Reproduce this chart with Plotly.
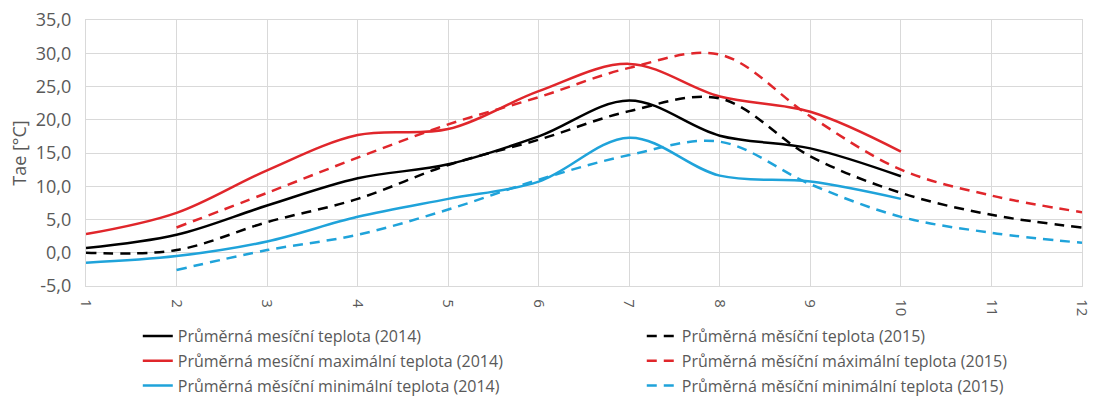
import plotly.graph_objects as go

months_2014 = [1, 2, 3, 4, 5, 6, 7, 8, 9, 10]
months_2015 = [1, 2, 3, 4, 5, 6, 7, 8, 9, 10, 11, 12]

avg_2014 = [0.7, 2.7, 7.1, 11.2, 13.3, 17.5, 22.9, 17.6, 15.7, 11.5]
max_2014 = [2.8, 6.0, 12.4, 17.7, 18.6, 24.3, 28.4, 23.5, 21.2, 15.2]
min_2014 = [-1.5, -0.5, 1.7, 5.4, 8.1, 10.7, 17.3, 11.6, 10.7, 8.1]

avg_2015 = [0.0, 0.4, 4.6, 8.1, 13.2, 17.0, 21.3, 23.2, 14.5, 9.0, 5.7, 3.8]
max_2015 = [None, 3.8, 9.0, 14.3, 19.3, 23.4, 27.8, 29.8, 20.5, 12.5, 8.6, 6.1]
min_2015 = [None, -2.6, 0.4, 2.7, 6.5, 11.0, 14.7, 16.7, 10.3, 5.4, 3.0, 1.5]

y_ticks = [-5, 0, 5, 10, 15, 20, 25, 30, 35]
y_tick_labels = ["-5,0", "0,0", "5,0", "10,0", "15,0", "20,0", "25,0", "30,0", "35,0"]

labels_2014 = [
    "Průměrná mesíční teplota (2014)",
    "Průměrná mesíční maximální teplota (2014)",
    "Průměrná měsíční minimální teplota (2014)",
]
labels_2015 = [
    "Průměrná měsíční teplota (2015)",
    "Průměrná měsíční máximální teplota (2015)",
    "Průměrná měsíční minimální teplota (2015)",
]

BLACK = "#000000"
RED = "#E0262B"
BLUE = "#1FA3DA"
TEXT = "#595959"
GRID = "#D9D9D9"
FONT = "Open Sans"

fig = go.Figure()

for i, (vals, name, color) in enumerate(zip([avg_2014, max_2014, min_2014], labels_2014, [BLACK, RED, BLUE])):
    fig.add_trace(go.Scatter(
        x=months_2014, y=vals, name=name, mode="lines",
        line=dict(color=color, width=2.5, shape="spline", smoothing=1.0),
        legend="legend", legendgroup=f"a{i}",
    ))

for i, (vals, name, color) in enumerate(zip([avg_2015, max_2015, min_2015], labels_2015, [BLACK, RED, BLUE])):
    fig.add_trace(go.Scatter(
        x=months_2015, y=vals, name=name, mode="lines",
        line=dict(color=color, width=2.5, dash="10px,7px", shape="spline", smoothing=1.0),
        legend="legend2", legendgroup=f"b{i}", connectgaps=False,
    ))

legend_common = dict(
    orientation="v", xanchor="left", yanchor="top",
    font=dict(family=FONT, size=16, color=TEXT),
    bgcolor="rgba(0,0,0,0)", tracegroupgap=1,
)

fig.update_layout(
    width=1093, height=405,
    margin=dict(l=86, r=11, t=20, b=119, autoexpand=False),
    paper_bgcolor="white", plot_bgcolor="white",
    font=dict(family=FONT, color=TEXT),
    showlegend=True,
    legend=dict(x=0.052, y=-0.124, **legend_common),
    legend2=dict(x=0.558, y=-0.124, **legend_common),
    xaxis=dict(
        range=[1, 12], tickmode="array", tickvals=months_2015,
        ticktext=[str(m) for m in months_2015], tickangle=90,
        showgrid=True, gridcolor=GRID, gridwidth=1.3,
        showline=True, linecolor=GRID, linewidth=1.3, mirror=True,
        zeroline=False, ticks="", ticklabelstandoff=9,
        ticklabeloverflow="allow", automargin=False,
        tickfont=dict(family=FONT, size=15, color=TEXT),
    ),
    yaxis=dict(
        range=[-5, 35], tickmode="array", tickvals=y_ticks, ticktext=y_tick_labels,
        showgrid=True, gridcolor=GRID, gridwidth=1.3,
        showline=True, linecolor=GRID, linewidth=1.3, mirror=True,
        zeroline=False, ticks="", ticklabelstandoff=10, automargin=False,
        tickfont=dict(family=FONT, size=18, color=TEXT),
        title=dict(text="Tae [°C]", font=dict(family=FONT, size=18, color=TEXT), standoff=4),
    ),
)

fig.write_html("out.html")
